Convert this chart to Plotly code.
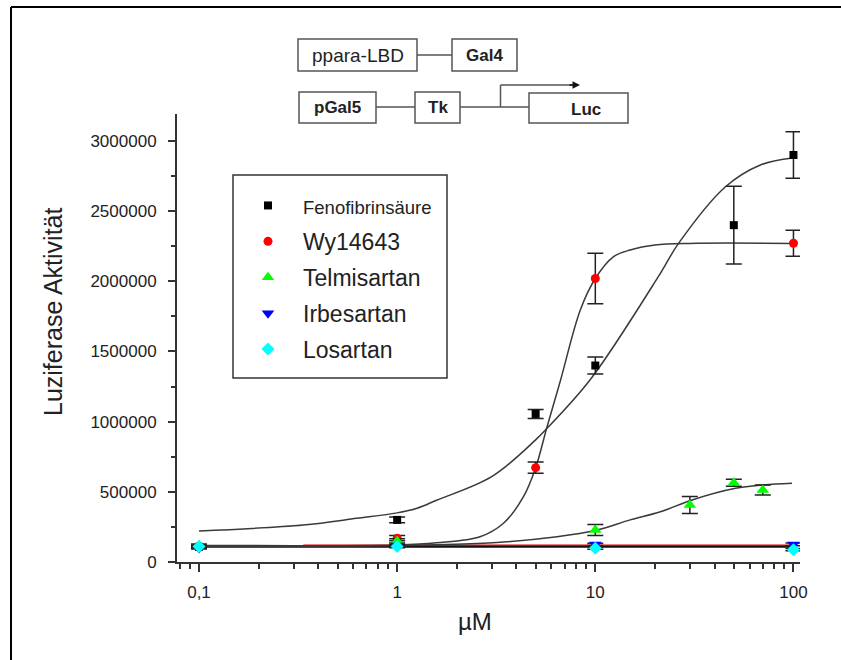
import plotly.graph_objects as go

# ---------------- data ----------------
conc_feno = [0.1, 1, 5, 10, 50, 100]
feno = [108000, 300000, 1055000, 1400000, 2400000, 2900000]
feno_err = [10000, 20000, 32000, 60000, 277000, 165000]

conc_wy = [0.1, 1, 5, 10, 100]
wy = [112000, 170000, 672000, 2020000, 2271000]
wy_err = [10000, 18000, 40000, 180000, 92000]

conc_telmi = [0.1, 1, 10, 30, 50, 70]
telmi = [118000, 150000, 228000, 406000, 565000, 513000]
telmi_err = [10000, 15000, 40000, 60000, 25000, 35000]

conc_irbe = [0.1, 1, 10, 100]
irbe = [100000, 118000, 125000, 125000]
irbe_err = [8000, 8000, 8000, 10000]

conc_losa = [0.1, 1, 10, 100]
losa = [110000, 110000, 98000, 88000]
losa_err = [8000, 8000, 8000, 8000]

# fitted curves, points
fit_feno_x = [0.1, 0.336, 0.625, 1.0, 1.26, 1.58, 3.0, 5.0, 5.6, 9.44, 21.3, 26.3, 45.4, 68.1, 96.6]
fit_feno_y = [221000, 264000, 311000, 350000, 383000, 440000, 608000, 870000, 940000,
              1300000, 2057000, 2270000, 2674000, 2829000, 2877000]

fit_wy_x = [0.1, 1.0, 1.58, 2.62, 3.44, 4.34, 5.0, 5.7, 6.66, 8.4, 10, 12.37, 15, 20, 30, 100]
fit_wy_y = [118000, 122000, 137000, 180000, 276000, 465000, 672000, 960000, 1290000,
            1796000, 2020000, 2176000, 2223000, 2258000, 2270000, 2270000]

fit_telmi_x = [0.1, 1.0, 2.73, 6.41, 10.2, 15.0, 21.3, 30.8, 51, 70.8, 98.4]
fit_telmi_y = [112000, 118000, 133000, 180000, 228000, 300000, 358000, 442000, 525000, 549000, 561000]

base_black_x = [0.1, 100]
base_black_y = [110000, 110000]
base_red_x = [0.336, 100]
base_red_y = [120000, 120000]

# ---------------- layout geometry ----------------
W, H = 841, 660
L, R, T, B = 177, 800, 114, 562   # plot-area edges in window pixels


def px(x):
    return (x - L) / (R - L)


def py(y):
    return (B - y) / (B - T)


fig = go.Figure()

curve_line = dict(color="#3a3a3a", width=1.5, shape="spline")
fig.add_trace(go.Scatter(x=base_black_x, y=base_black_y, mode="lines",
                         line=dict(color="#111111", width=2.5), showlegend=False, hoverinfo="skip"))
fig.add_trace(go.Scatter(x=base_red_x, y=base_red_y, mode="lines",
                         line=dict(color="#e00000", width=1.5), showlegend=False, hoverinfo="skip"))
fig.add_trace(go.Scatter(x=fit_feno_x, y=fit_feno_y, mode="lines", line=curve_line,
                         showlegend=False, hoverinfo="skip"))
fig.add_trace(go.Scatter(x=fit_wy_x, y=fit_wy_y, mode="lines", line=curve_line,
                         showlegend=False, hoverinfo="skip"))
fig.add_trace(go.Scatter(x=fit_telmi_x, y=fit_telmi_y, mode="lines", line=curve_line,
                         showlegend=False, hoverinfo="skip"))


def err(a):
    return dict(type="data", array=a, visible=True, color="#222222", thickness=1.5, width=8)


series = [
    ("<span style='font-size:18.5px'>Fenofibrinsäure</span>", conc_feno, feno, feno_err, "square", "#000000", 8),
    ("Wy14643", conc_wy, wy, wy_err, "circle", "#ff0000", 9),
    ("Telmisartan", conc_telmi, telmi, telmi_err, "triangle-up", "#00ff00", 11),
    ("Irbesartan", conc_irbe, irbe, irbe_err, "triangle-down", "#0000ff", 11),
    ("Losartan", conc_losa, losa, losa_err, "diamond", "#00ffff", 10),
]
for i, (name, xs, ys, es, sym, col, sz) in enumerate(series):
    fig.add_trace(go.Scatter(x=xs, y=ys, mode="markers", name=name, legendgroup="g%d" % i,
                             marker=dict(symbol=sym, color=col, size=sz, line=dict(width=0)),
                             error_y=err(es)))

shapes = []
# outer frame (left and top edges)
shapes.append(dict(type="line", xref="paper", yref="paper", x0=px(11), x1=px(11), y0=py(7), y1=py(700),
                   line=dict(color="#000000", width=2)))
shapes.append(dict(type="line", xref="paper", yref="paper", x0=px(11), x1=px(900), y0=py(7), y1=py(7),
                   line=dict(color="#000000", width=2)))
# legend box
shapes.append(dict(type="rect", xref="paper", yref="paper", x0=px(233), x1=px(447), y0=py(175), y1=py(378),
                   line=dict(color="#333333", width=1.5), fillcolor="rgba(0,0,0,0)"))

# construct schematic
box_line = dict(color="#555555", width=1.5)


def box(x0, y0, x1, y1):
    shapes.append(dict(type="rect", xref="paper", yref="paper", x0=px(x0), x1=px(x1), y0=py(y0), y1=py(y1),
                       line=box_line, fillcolor="white"))


def seg(x0, y0, x1, y1):
    shapes.append(dict(type="line", xref="paper", yref="paper", x0=px(x0), x1=px(x1), y0=py(y0), y1=py(y1),
                       line=box_line))


box(298, 39, 417, 71)
seg(417, 55, 452, 55)
box(452, 39, 517, 71)
box(299, 92, 376, 123)
seg(376, 107, 415, 107)
box(415, 92, 460, 123)
seg(460, 107, 529, 107)
box(529, 93, 628, 123)
seg(500.5, 107, 500.5, 85)
seg(500.5, 85, 572, 85)

annotations = [
    dict(text="ppara-LBD", x=px(357.5), y=py(55.5), font=dict(size=19)),
    dict(text="<b>Gal4</b>", x=px(484.5), y=py(55.5), font=dict(size=17)),
    dict(text="<b>pGal5</b>", x=px(337.5), y=py(108), font=dict(size=17)),
    dict(text="<b>Tk</b>", x=px(437.5), y=py(108), font=dict(size=17)),
    dict(text="<b>Luc</b>", x=px(586), y=py(109), font=dict(size=17)),
    dict(text="Luziferase Aktivität", x=px(53), y=py(312), textangle=-90, font=dict(size=25)),
    dict(text="µM", x=px(475), y=py(621), font=dict(size=24)),
    # arrow head of the transcription arrow
    dict(text="", x=px(580), y=py(85), ax=-12, ay=0, axref="pixel", ayref="pixel",
         showarrow=True, arrowhead=2, arrowsize=1, arrowwidth=1.5, arrowcolor="#111111"),
]
for a in annotations:
    a.setdefault("xref", "paper")
    a.setdefault("yref", "paper")
    a.setdefault("showarrow", False)
    a.setdefault("xanchor", "center")
    a.setdefault("yanchor", "middle")
    a["font"] = dict(family="Liberation Sans, Arial, sans-serif", color="#222222", **a.get("font", {}))

fig.update_layout(
    width=W, height=H,
    margin=dict(l=L, r=W - R, t=T, b=H - B, pad=0),
    paper_bgcolor="white", plot_bgcolor="white",
    font=dict(family="Liberation Sans, Arial, sans-serif", color="#222222", size=16),
    shapes=shapes, annotations=annotations,
    showlegend=True,
    legend=dict(x=px(233), y=py(184), xanchor="left", yanchor="top",
                bgcolor="rgba(0,0,0,0)", borderwidth=0, font=dict(size=23, color="#222222"),
                tracegroupgap=3, itemwidth=60),
    xaxis=dict(type="log", range=[-1.111, 2.033], showline=True, linecolor="#333333", linewidth=2,
               showgrid=False, zeroline=False, ticks="outside", ticklen=8, tickwidth=1.5, tickcolor="#333333",
               tickvals=[0.1, 1, 10, 100], ticktext=["0,1", "1", "10", "100"],
               tickfont=dict(size=17, color="#222222"), ticklabelstandoff=6,
               minor=dict(ticks="outside", ticklen=5, tickwidth=1.5, tickcolor="#333333", dtick="D1",
                          showgrid=False)),
    yaxis=dict(range=[0, 3192000], showline=True, linecolor="#333333", linewidth=2,
               showgrid=False, zeroline=False, ticks="outside", ticklen=7, tickwidth=1.5, tickcolor="#333333",
               tickmode="linear", tick0=0, dtick=500000, tickformat="d",
               tickfont=dict(size=17, color="#222222"), ticklabelstandoff=8,
               minor=dict(ticks="outside", ticklen=4, tickwidth=1.5, tickcolor="#333333", dtick=250000,
                          showgrid=False)),
)

# remove the browser's default page margin so the figure fills the window exactly
fig.write_html("out.html", config={"displayModeBar": False},
               post_script="document.body.style.margin='0';document.body.style.overflow='hidden';")
